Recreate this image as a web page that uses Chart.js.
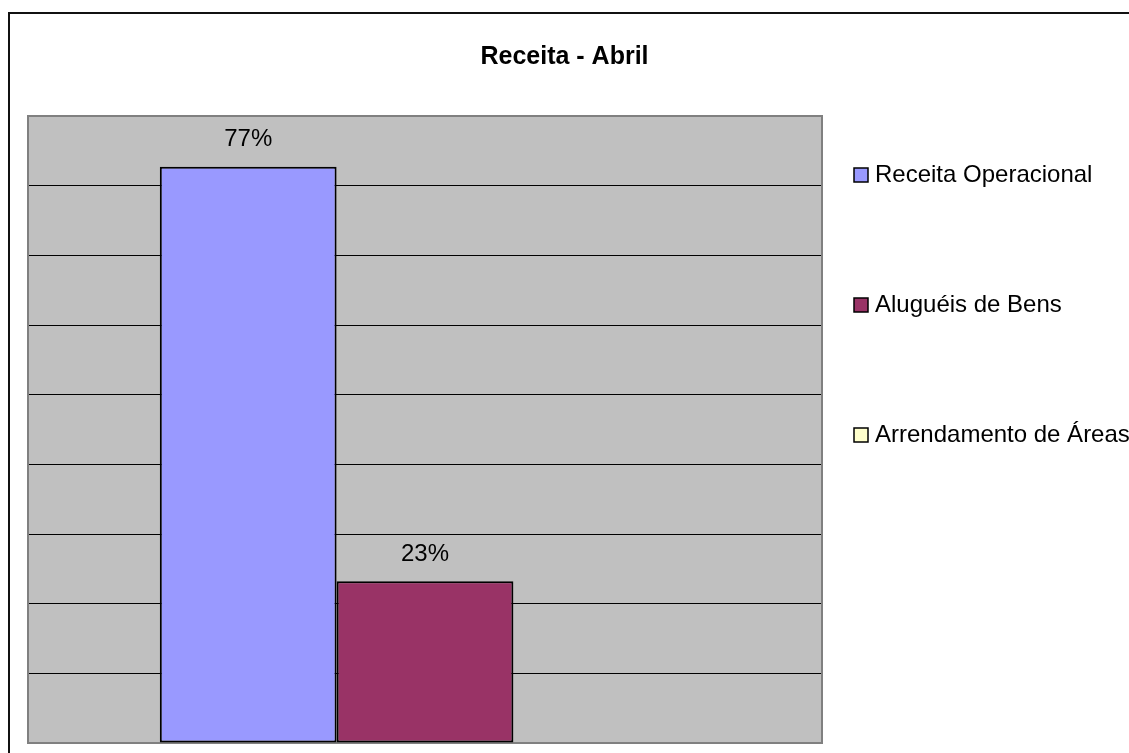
<!DOCTYPE html>
<html>
<head>
<meta charset="utf-8">
<script src="https://cdn.jsdelivr.net/npm/chart.js@4"></script>
<style>
  html, body { margin: 0; padding: 0; background: #fff; overflow: hidden; }
  #frame {
    position: absolute; left: 8px; top: 12px;
    width: 1200px; height: 800px;
    border: 2px solid #111;
  }
  #wrap { position: absolute; left: 0; top: 0; width: 1129px; height: 753px; }
</style>
</head>
<body>
<div id="frame"></div>
<div id="wrap"><canvas id="grafico"></canvas></div>
<script>
// valores (unidades da grade)
const categorias = [""];
const series = ["Receita Operacional", "Aluguéis de Bens", "Arrendamento de Áreas"];
const valores = [8.27, 2.32, 0];
const rotulos = ["77%", "23%", ""];
const cores = ["#9999FF", "#993366", "#FFFFCC"];

const fonte = "'Liberation Sans', Arial, sans-serif";

// fundo e moldura da área de plotagem
const fundoPlot = {
  id: "fundoPlot",
  beforeDraw(chart) {
    const { ctx, chartArea: a } = chart;
    ctx.save();
    ctx.fillStyle = "#C0C0C0";
    ctx.fillRect(a.left, a.top, a.right - a.left, a.bottom - a.top);
    ctx.restore();
  },
  beforeDatasetsDraw(chart) {
    const { ctx, chartArea: a } = chart;
    ctx.save();
    ctx.strokeStyle = "#808080";
    ctx.lineWidth = 2;
    ctx.strokeRect(a.left, a.top, a.right - a.left, a.bottom - a.top);
    ctx.restore();
  }
};

// rótulos de porcentagem acima das barras
const rotulosBarras = {
  id: "rotulosBarras",
  afterDatasetsDraw(chart) {
    const ctx = chart.ctx;
    ctx.save();
    ctx.font = "24px " + fonte;
    ctx.fillStyle = "#000";
    ctx.textAlign = "center";
    ctx.textBaseline = "middle";
    chart.data.datasets.forEach((ds, i) => {
      const txt = rotulos[i];
      if (!txt) return;
      const bar = chart.getDatasetMeta(i).data[0];
      ctx.fillText(txt, bar.x, bar.y - 27);
    });
    ctx.restore();
  }
};

// legenda à direita, no estilo do Excel
const legendaExcel = {
  id: "legendaExcel",
  afterDraw(chart) {
    const ctx = chart.ctx;
    const x = 854, y0 = 175, passo = 130, lado = 14;
    ctx.save();
    ctx.font = "24px " + fonte;
    ctx.textBaseline = "middle";
    chart.data.datasets.forEach((ds, i) => {
      const y = y0 + i * passo;
      ctx.fillStyle = ds.backgroundColor;
      ctx.fillRect(x, y - lado / 2, lado, lado);
      ctx.strokeStyle = "#000";
      ctx.lineWidth = 1.5;
      ctx.strokeRect(x, y - lado / 2, lado, lado);
      ctx.fillStyle = "#000";
      ctx.fillText(ds.label, x + lado + 7, y);
    });
    ctx.restore();
  }
};

new Chart(document.getElementById("grafico"), {
  type: "bar",
  data: {
    labels: categorias,
    datasets: series.map((nome, i) => ({
      label: nome,
      data: [valores[i]],
      backgroundColor: cores[i],
      borderColor: "#000",
      borderWidth: 2,
      borderSkipped: false
    }))
  },
  options: {
    responsive: true,
    maintainAspectRatio: false,
    animation: false,
    layout: { padding: { left: 0, right: 0, top: 0, bottom: 10 } },
    datasets: { bar: { categoryPercentage: 0.668, barPercentage: 1 } },
    scales: {
      x: { display: false },
      y: {
        min: 0,
        max: 9,
        ticks: { display: false, stepSize: 1 },
        grid: { color: "#000", lineWidth: 1, drawTicks: false },
        border: { display: false },
        afterFit(scale) { scale.width = 28; }
      },
      // eixo vazio só para reservar o espaço da legenda
      yDir: {
        position: "right",
        min: 0,
        max: 9,
        ticks: { display: false },
        grid: { display: false, drawTicks: false },
        border: { display: false },
        afterFit(scale) { scale.width = 307; }
      }
    },
    plugins: {
      legend: { display: false },
      tooltip: { enabled: false },
      title: {
        display: true,
        text: "Receita - Abril",
        color: "#000",
        font: { family: fonte, size: 25, weight: "bold" },
        padding: { top: 42, bottom: 44 }
      }
    }
  },
  plugins: [fundoPlot, rotulosBarras, legendaExcel]
});
</script>
</body>
</html>
